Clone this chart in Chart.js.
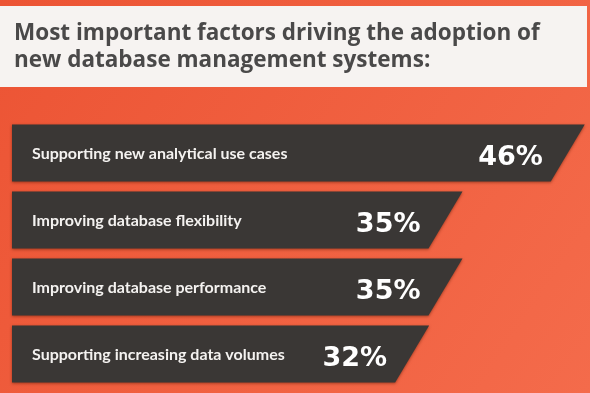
<!DOCTYPE html>
<html><head><meta charset="utf-8">
<script src="https://cdn.jsdelivr.net/npm/chart.js@4.4.1/dist/chart.umd.min.js"></script>
<style>html,body{margin:0;padding:0;background:#ee5939;overflow:hidden}#wrap{width:590px;height:393px;position:relative}</style>
</head><body><div id="wrap"><canvas id="c"></canvas></div>
<script>
const titleLines = ['Most important factors driving the adoption of', 'new database management systems:'];
const categories = ['Supporting new analytical use cases', 'Improving database flexibility', 'Improving database performance', 'Supporting increasing data volumes'];
const values = [46, 35, 35, 32];
const valueLabels = ['46%', '35%', '35%', '32%'];
const X_MIN = -4, X_MAX = 48;

const backdrop = {
  id: 'backdrop',
  beforeDraw(chart) {
    const ctx = chart.ctx, w = chart.width, h = chart.height;
    ctx.save();
    const g = ctx.createLinearGradient(0, 0, w, h);
    g.addColorStop(0, '#ec5434');
    g.addColorStop(1, '#f46b4b');
    ctx.fillStyle = g;
    ctx.fillRect(0, 0, w, h);
    ctx.fillStyle = '#f6f3f1';
    ctx.fillRect(0, 6, 587, 81);
    ctx.fillStyle = '#4a4949';
    ctx.font = 'bold 22.5px "Open Sans", Lato, sans-serif';
    ctx.textAlign = 'left';
    ctx.textBaseline = 'alphabetic';
    ctx.fillText(titleLines[0], 14, 39.5);
    ctx.fillText(titleLines[1], 14, 67);
    ctx.restore();
  }
};

const slantBars = {
  id: 'slantBars',
  afterDatasetsDraw(chart) {
    const ctx = chart.ctx;
    const meta = chart.getDatasetMeta(0);
    meta.data.forEach((el, i) => {
      const p = el.getProps(['x', 'y', 'base', 'height'], true);
      const top = p.y - p.height / 2, bot = p.y + p.height / 2, s = 17;
      ctx.save();
      ctx.shadowColor = 'rgba(90,25,5,0.55)';
      ctx.shadowBlur = 3;
      ctx.shadowOffsetY = 1;
      ctx.fillStyle = '#3a3735';
      ctx.beginPath();
      ctx.moveTo(p.base, top);
      ctx.lineTo(p.x + s, top);
      ctx.lineTo(p.x - s, bot);
      ctx.lineTo(p.base, bot);
      ctx.closePath();
      ctx.fill();
      ctx.restore();
      ctx.save();
      ctx.fillStyle = '#f4f2f0';
      ctx.textBaseline = 'alphabetic';
      ctx.textAlign = 'left';
      ctx.font = 'bold 16px Lato, "Open Sans", sans-serif';
      ctx.fillText(categories[i], p.base + 20, p.y + 6);
      ctx.textAlign = 'right';
      ctx.font = 'bold 27px "DejaVu Sans", sans-serif';
      ctx.fillStyle = '#ffffff';
      ctx.fillText(valueLabels[i], p.x - 25, p.y + 12);
      ctx.restore();
    });
  }
};

new Chart(document.getElementById('c'), {
  type: 'bar',
  data: {
    labels: categories,
    datasets: [{
      data: values,
      base: X_MIN,
      backgroundColor: 'rgba(0,0,0,0)',
      borderWidth: 0,
      barPercentage: 0.85,
      categoryPercentage: 1
    }]
  },
  options: {
    indexAxis: 'y',
    responsive: true,
    maintainAspectRatio: false,
    devicePixelRatio: 1,
    animation: false,
    layout: { padding: { top: 119.5, left: 12, right: 0, bottom: 5.5 } },
    scales: {
      x: { display: false, min: X_MIN, max: X_MAX },
      y: { display: false }
    },
    plugins: { legend: { display: false }, tooltip: { enabled: false }, title: { display: false } }
  },
  plugins: [backdrop, slantBars]
});
</script>
</body></html>
